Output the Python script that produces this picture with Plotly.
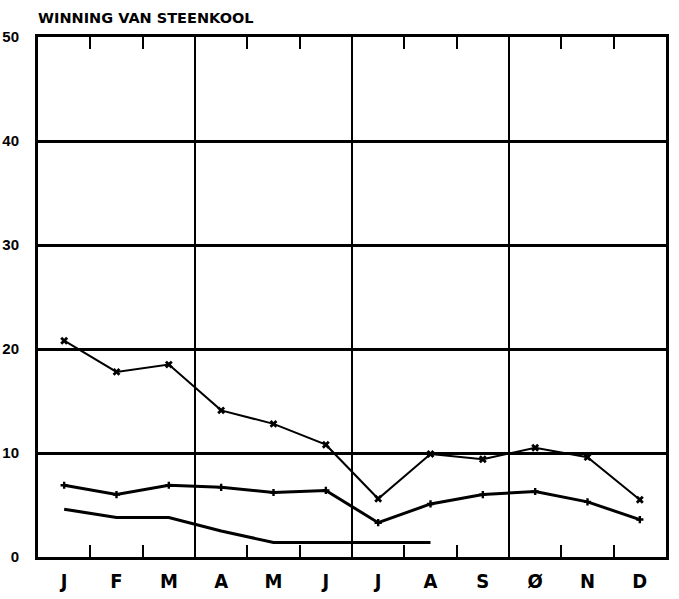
import plotly.graph_objects as go

months = ["J", "F", "M", "A", "M", "J", "J", "A", "S", "Ø", "N", "D"]
series_x = [20.8, 17.8, 18.5, 14.1, 12.8, 10.8, 5.6, 9.9, 9.4, 10.5, 9.6, 5.5]
series_plus = [6.9, 6.0, 6.9, 6.7, 6.2, 6.4, 3.3, 5.1, 6.0, 6.3, 5.3, 3.6]
series_plain = [4.6, 3.8, 3.8, 2.5, 1.4, 1.4, 1.4, 1.4, None, None, None, None]
y_ticks = [0, 10, 20, 30, 40, 50]
title_text = "WINNING VAN STEENKOOL"

xpos = [i + 0.5 for i in range(len(months))]
FONT = "Liberation Sans Narrow, Arial Narrow, DejaVu Sans Condensed, Liberation Sans, sans-serif"

fig = go.Figure()
fig.add_trace(go.Scatter(x=xpos, y=series_x, mode="lines+markers",
                         line=dict(color="black", width=2),
                         marker=dict(symbol="x", size=7, color="black"),
                         showlegend=False))
fig.add_trace(go.Scatter(x=xpos, y=series_plus, mode="lines+markers",
                         line=dict(color="black", width=3),
                         marker=dict(symbol="cross", size=6, color="black"),
                         showlegend=False))
fig.add_trace(go.Scatter(x=xpos, y=series_plain, mode="lines",
                         line=dict(color="black", width=3),
                         connectgaps=False, showlegend=False))

for q in (3, 6, 9):
    fig.add_shape(type="line", x0=q, x1=q, y0=0, y1=1, xref="x", yref="paper",
                  line=dict(color="black", width=2), layer="below")

fig.update_layout(
    width=679, height=599,
    margin=dict(l=38, r=13, t=37, b=42),
    paper_bgcolor="white", plot_bgcolor="white",
    title=dict(text="<b>" + title_text + "</b>", x=38 / 679, xanchor="left",
               y=1 - 18 / 599, yanchor="middle",
               font=dict(family="DejaVu Sans, sans-serif", size=14.5, color="black")),
    xaxis=dict(range=[0, 12], tickvals=xpos, ticktext=["<b>" + m + "</b>" for m in months],
               ticks="", showgrid=False, zeroline=False, automargin=False,
               showline=True, linecolor="black", linewidth=3, mirror="ticks",
               ticklabelstandoff=4,
               tickfont=dict(family=FONT, size=20, color="black"),
               minor=dict(tickvals=list(range(1, 12)), ticks="inside", ticklen=12,
                          tickwidth=2, tickcolor="black", showgrid=False)),
    yaxis=dict(range=[0, 50], tickvals=y_ticks, ticktext=["<b>%d</b>" % v for v in y_ticks],
               ticks="", showgrid=True, gridcolor="black", gridwidth=2.5, zeroline=False,
               showline=True, linecolor="black", linewidth=3, mirror=True,
               automargin=False, ticklabelstandoff=13,
               tickfont=dict(family="Liberation Sans, Arial, sans-serif", size=15, color="black")),
)

fig.write_html("out.html", config={"displayModeBar": False},
               post_script="document.body.style.margin='0';document.body.style.overflow='hidden';")
